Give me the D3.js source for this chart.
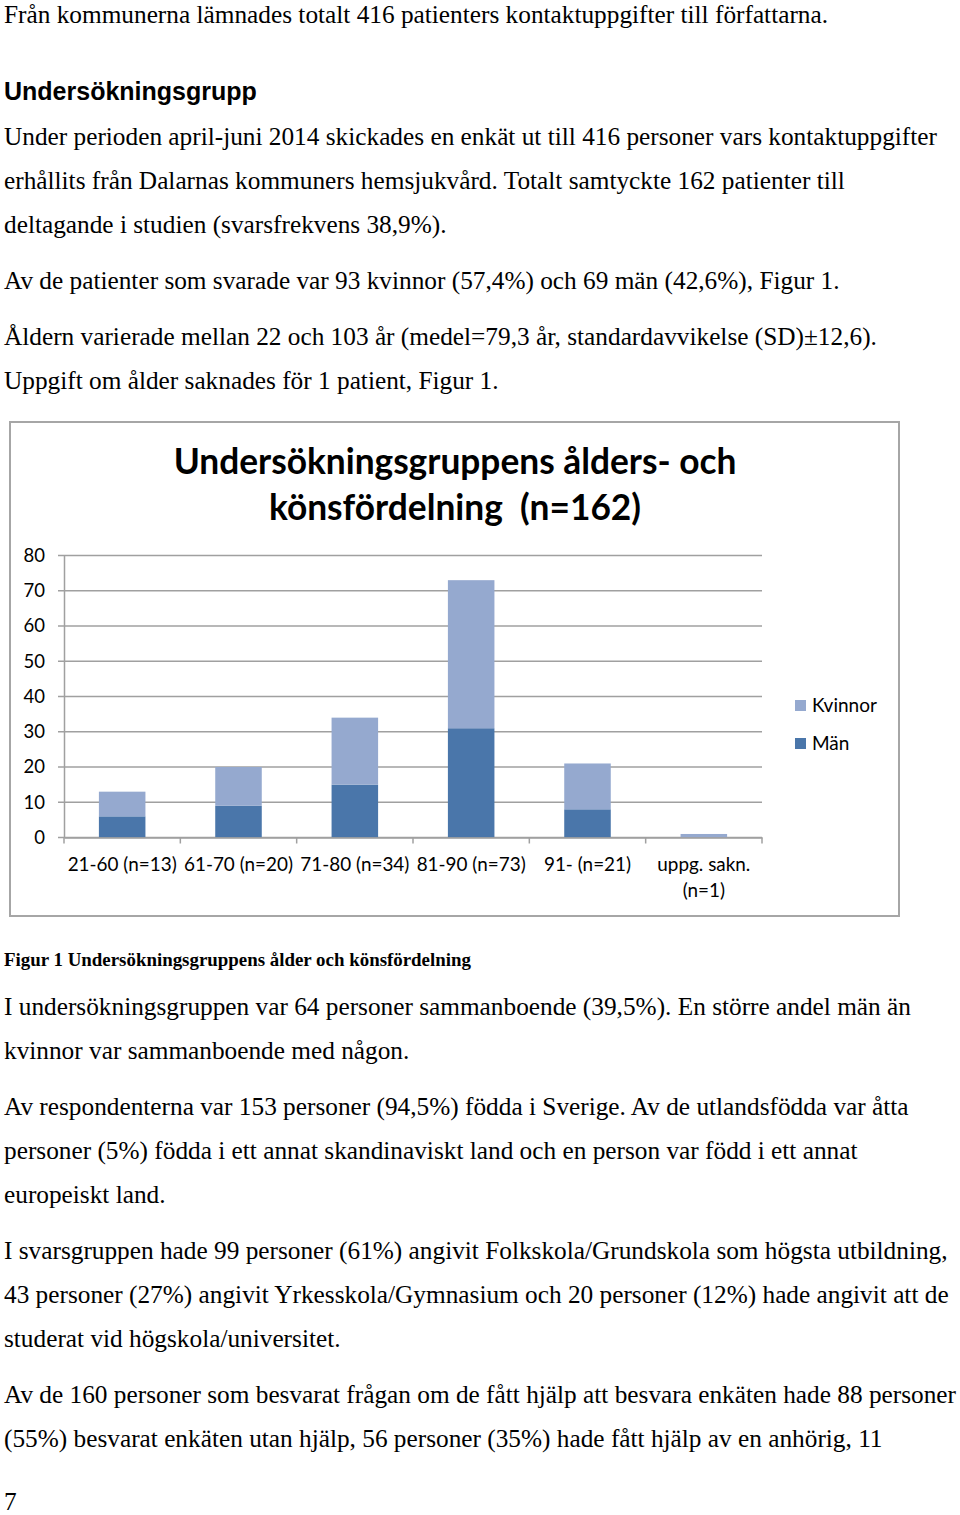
<!DOCTYPE html>
<html>
<head>
<meta charset="utf-8">
<script src="https://cdn.jsdelivr.net/npm/d3@7"></script>
<style>
  body { margin: 0; background: #fff; }
  .body-text { font-family: "Liberation Serif", "Times New Roman", serif; font-size: 25.3px; fill: #000; }
  .chart-text { font-family: Lato, "Open Sans", sans-serif; fill: #000; }
</style>
</head>
<body>
<div id="page"></div>
<script>
// Chart data
const categories = ["21-60 (n=13)", "61-70 (n=20)", "71-80 (n=34)", "81-90 (n=73)", "91- (n=21)", "uppg. sakn. (n=1)"];
const man = [6, 9, 15, 31, 8, 0];
const kvinnor = [7, 11, 19, 42, 13, 1];
const yTicks = [0, 10, 20, 30, 40, 50, 60, 70, 80];
const seriesNames = ["Män", "Kvinnor"];
const seriesColors = ["#4a76aa", "#95a9cf"];

// Document text around the figure
const textAbove = [
  "Från kommunerna lämnades totalt 416 patienters kontaktuppgifter till författarna.",
  "Under perioden april-juni 2014 skickades en enkät ut till 416 personer vars kontaktuppgifter",
  "erhållits från Dalarnas kommuners hemsjukvård. Totalt samtyckte 162 patienter till",
  "deltagande i studien (svarsfrekvens 38,9%).",
  "Av de patienter som svarade var 93 kvinnor (57,4%) och 69 män (42,6%), Figur 1.",
  "Åldern varierade mellan 22 och 103 år (medel=79,3 år, standardavvikelse (SD)±12,6).",
  "Uppgift om ålder saknades för 1 patient, Figur 1."
];
const baselinesAbove = [23, 145, 189, 233, 289, 345, 389];
const textBelow = [
  "I undersökningsgruppen var 64 personer sammanboende (39,5%). En större andel män än",
  "kvinnor var sammanboende med någon.",
  "Av respondenterna var 153 personer (94,5%) födda i Sverige. Av de utlandsfödda var åtta",
  "personer (5%) födda i ett annat skandinaviskt land och en person var född i ett annat",
  "europeiskt land.",
  "I svarsgruppen hade 99 personer (61%) angivit Folkskola/Grundskola som högsta utbildning,",
  "43 personer (27%) angivit Yrkesskola/Gymnasium och 20 personer (12%) hade angivit att de",
  "studerat vid högskola/universitet.",
  "Av de 160 personer som besvarat frågan om de fått hjälp att besvara enkäten hade 88 personer",
  "(55%) besvarat enkäten utan hjälp, 56 personer (35%) hade fått hjälp av en anhörig, 11"
];
const baselinesBelow = [1015, 1059, 1115, 1159, 1203, 1259, 1303, 1347, 1403, 1447];

const W = 960, H = 1515;
const svg = d3.select("#page").append("svg")
  .attr("width", W)
  .attr("height", H);

// body paragraphs
svg.selectAll(".above")
  .data(textAbove)
  .join("text")
  .attr("class", "body-text above")
  .attr("x", 4)
  .attr("y", (d, i) => baselinesAbove[i])
  .text(d => d);

svg.append("text")
  .attr("x", 4)
  .attr("y", 100)
  .style("font-family", "'Liberation Sans', Arial, sans-serif")
  .style("font-weight", "bold")
  .style("font-size", "25px")
  .text("Undersökningsgrupp");

svg.selectAll(".below")
  .data(textBelow)
  .join("text")
  .attr("class", "body-text below")
  .attr("x", 4)
  .attr("y", (d, i) => baselinesBelow[i])
  .text(d => d);

svg.append("text")
  .attr("x", 4)
  .attr("y", 966)
  .style("font-family", "'Liberation Serif', 'Times New Roman', serif")
  .style("font-weight", "bold")
  .style("font-size", "18.9px")
  .text("Figur 1 Undersökningsgruppens ålder och könsfördelning");

svg.append("text")
  .attr("class", "body-text")
  .attr("x", 4)
  .attr("y", 1510)
  .text("7");

// chart frame
svg.append("rect")
  .attr("x", 10)
  .attr("y", 422)
  .attr("width", 889)
  .attr("height", 494)
  .attr("fill", "#fff")
  .attr("stroke", "#a6a6a6")
  .attr("stroke-width", 2);

// chart title
const title = svg.append("text")
  .attr("class", "chart-text")
  .attr("text-anchor", "middle")
  .style("font-weight", "bold")
  .style("font-size", "35.3px")
  .style("white-space", "pre");
title.append("tspan").attr("x", 455).attr("y", 474).text("Undersökningsgruppens ålders- och");
title.append("tspan").attr("x", 455).attr("y", 520).text("könsfördelning  (n=162)");

// scales
let x = d3.scaleBand()
  .domain(categories)
  .range([64, 762])
  .paddingInner(0.6)
  .paddingOuter(0.3);

let y = d3.scaleLinear()
  .domain([0, 80])
  .range([837.5, 555.5]);

// gridlines
svg.append("g")
  .selectAll("line")
  .data(yTicks)
  .join("line")
  .attr("x1", 58)
  .attr("x2", 762)
  .attr("y1", d => y(d))
  .attr("y2", d => y(d))
  .attr("stroke", "#a0a0a0")
  .attr("stroke-width", 1.5);

// stacked bars
const table = categories.map((c, i) => ({ name: c, "Män": man[i], "Kvinnor": kvinnor[i] }));
const stacked = d3.stack().keys(seriesNames)(table);

svg.append("g")
  .selectAll("g")
  .data(stacked)
  .join("g")
  .attr("fill", (d, i) => seriesColors[i])
  .selectAll("rect")
  .data(d => d)
  .join("rect")
  .attr("x", d => x(d.data.name))
  .attr("y", d => y(d[1]))
  .attr("width", x.bandwidth())
  .attr("height", d => y(d[0]) - y(d[1]));

// y axis
const yAxis = svg.append("g")
  .attr("transform", "translate(64,0)")
  .call(d3.axisLeft(y).tickValues(yTicks).tickSize(0).tickPadding(19));
yAxis.select(".domain").attr("stroke", "#a0a0a0").attr("stroke-width", 1.5);
yAxis.selectAll("text")
  .attr("class", "chart-text")
  .style("font-size", "18.5px")
  .attr("fill", "#000");

// x axis
const step = (762 - 64) / categories.length;
const xAxis = svg.append("g")
  .attr("transform", "translate(0," + y(0) + ")")
  .call(d3.axisBottom(x).tickSize(0).tickFormat(""));
xAxis.select(".domain").attr("stroke", "#a0a0a0").attr("stroke-width", 1.5);

svg.append("g")
  .selectAll("line")
  .data(d3.range(categories.length + 1))
  .join("line")
  .attr("x1", d => 64 + d * step)
  .attr("x2", d => 64 + d * step)
  .attr("y1", y(0))
  .attr("y2", y(0) + 6)
  .attr("stroke", "#a0a0a0")
  .attr("stroke-width", 1.5);

const xLabels = svg.append("g")
  .selectAll("text")
  .data(categories)
  .join("text")
  .attr("class", "chart-text")
  .attr("text-anchor", "middle")
  .style("font-size", "18.9px");

xLabels.each(function(d) {
  const cx = x(d) + x.bandwidth() / 2;
  const lines = d.startsWith("uppg") ? ["uppg. sakn.", "(n=1)"] : [d];
  d3.select(this).selectAll("tspan")
    .data(lines)
    .join("tspan")
    .attr("x", cx)
    .attr("y", (l, i) => 871 + i * 26)
    .text(l => l);
});

// legend
const legend = svg.append("g")
  .selectAll("g")
  .data(["Kvinnor", "Män"])
  .join("g")
  .attr("transform", (d, i) => "translate(795," + (700 + i * 38) + ")");

legend.append("rect")
  .attr("width", 11)
  .attr("height", 11)
  .attr("fill", d => seriesColors[seriesNames.indexOf(d)]);

legend.append("text")
  .attr("class", "chart-text")
  .attr("x", 17)
  .attr("y", 12)
  .style("font-size", "19px")
  .text(d => d);
</script>
</body>
</html>
